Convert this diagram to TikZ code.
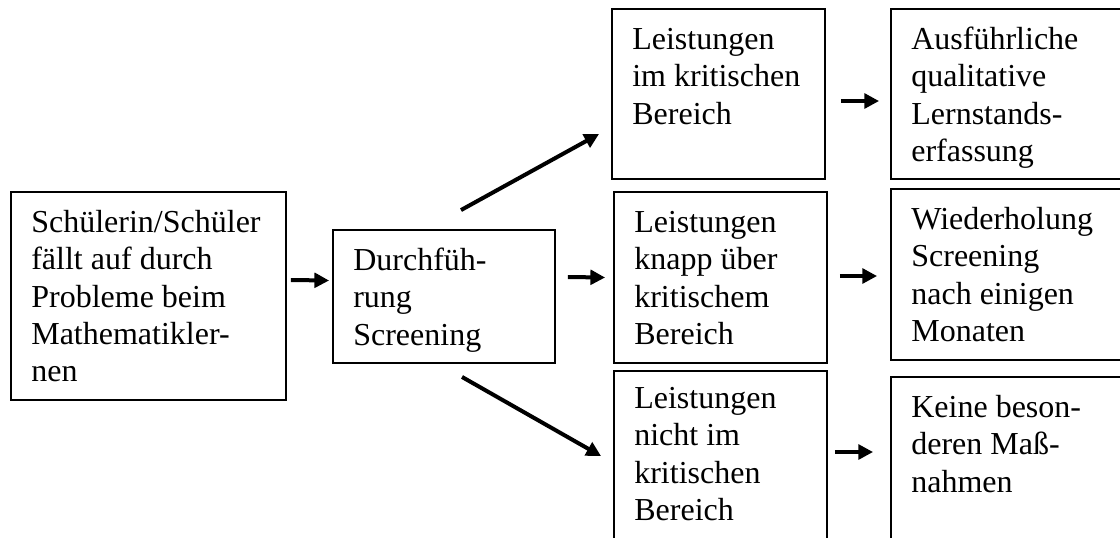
\documentclass[tikz,border=0pt]{standalone}
\usepackage{fontspec}
\setmainfont{Liberation Serif}
\usetikzlibrary{arrows.meta}
\tikzset{
  box/.style={draw, line width=1.4pt, inner sep=0pt},
  txt/.style={anchor=north west, align=left, inner sep=0pt,
    font=\fontsize{24}{28}\selectfont},
  arr/.style={line width=3pt, -{Triangle[length=11pt,width=11pt]}},
}
\begin{document}
\begin{tikzpicture}[x=0.75pt,y=-0.75pt]
  \useasboundingbox (0,0) rectangle (1120,537);
  \clip (0,0) rectangle (1120,537);
  % boxes
  \node[box, minimum width=206.25pt, minimum height=156pt] (A) at (148.5,296) {};
  \node[box, minimum width=166.5pt, minimum height=99.75pt] (B) at (444,296.5) {};
  \node[box, minimum width=159.75pt, minimum height=127.5pt] (C1) at (718.5,94) {};
  \node[box, minimum width=159.75pt, minimum height=128.25pt] (C2) at (720.5,277.5) {};
  \node[box, minimum width=159.75pt, minimum height=156.75pt] (C3) at (720.5,475.5) {};
  \node[box, minimum width=179.25pt, minimum height=127.5pt] (D1) at (1010.5,94) {};
  \node[box, minimum width=179.25pt, minimum height=128.25pt] (D2) at (1010.5,274.5) {};
  \node[box, minimum width=179.25pt, minimum height=152.25pt] (D3) at (1010.5,478.5) {};
  % texts
  \node[txt] (tA) at ([shift={(21,15)}]A.north west)
    {\strut Schülerin/Schüler\\fällt auf durch\\Probleme beim\\Mathematikler-\\nen};
  \node[txt] (tB) at ([shift={(21,15)}]B.north west)
    {\strut Durchfüh-\\rung\\Screening};
  \node[txt] (tC1) at ([shift={(21,15)}]C1.north west)
    {\strut Leistungen\\im kritischen\\Bereich};
  \node[txt] (tC2) at ([shift={(21,15)}]C2.north west)
    {\strut Leistungen\\knapp über\\kritischem\\Bereich};
  \node[txt] (tC3) at ([shift={(21,12)}]C3.north west)
    {\strut Leistungen\\nicht im\\kritischen\\Bereich};
  \node[txt] (tD1) at ([shift={(21,15)}]D1.north west)
    {\strut Ausführliche\\qualitative\\Lernstands-\\erfassung};
  \node[txt] (tD2) at ([shift={(21,15)}]D2.north west)
    {\strut Wiederholung\\Screening\\nach einigen\\Monaten};
  \node[txt] (tD3) at ([shift={(21,15)}]D3.north west)
    {\strut Keine beson-\\deren Maß-\\nahmen};
  % arrows
  \draw[arr] ([shift={(4,-16)}]A.east) -- ([shift={(-3,-16)}]B.west);
  \draw[arr] ([shift={(17,-19)}]B.north) -- ([shift={(-12,-46)}]C1.south west);
  \draw[arr] ([shift={(12,-19.5)}]B.east) -- ([shift={(-8,0)}]C2.west);
  \draw[arr] ([shift={(18,13)}]B.south) -- ([shift={(-12,86)}]C3.north west);
  \draw[arr] ([shift={(15,7)}]C1.east) -- ([shift={(-11,7)}]D1.west);
  \draw[arr] ([shift={(12,-1.5)}]C2.east) -- ([shift={(-13,1.5)}]D2.west);
  \draw[arr] ([shift={(7,-23.5)}]C3.east) -- ([shift={(-17,-26.5)}]D3.west);
\end{tikzpicture}
\end{document}
